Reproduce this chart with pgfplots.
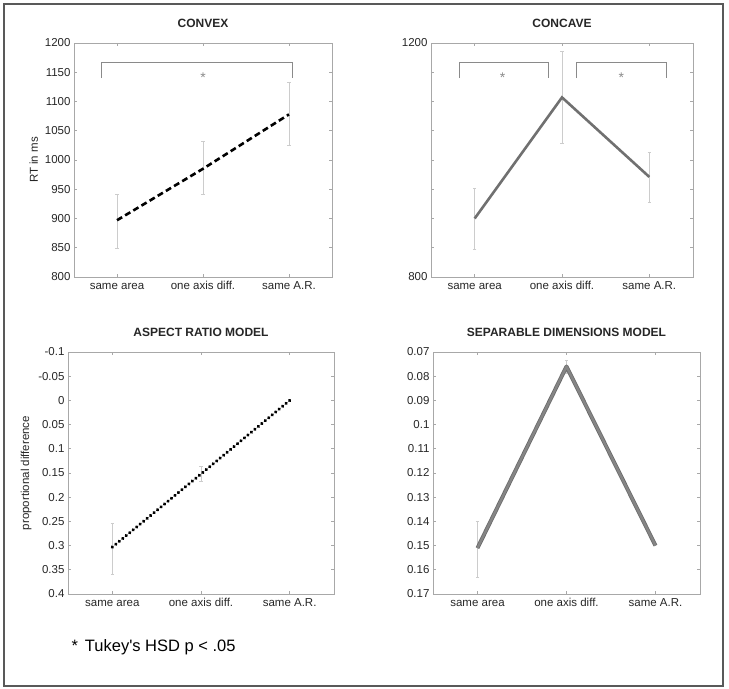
\documentclass[border=0pt]{standalone}
\usepackage{fontspec}
\setmainfont{Liberation Sans}
\usepackage{pgfplots}
\pgfplotsset{compat=1.18}
\definecolor{axgray}{HTML}{A8A8A8}
\definecolor{errgray}{HTML}{CCCCCC}
\definecolor{brgray}{HTML}{8A8A8A}
\definecolor{linegray}{HTML}{707070}
\definecolor{txt}{HTML}{262626}
\newcommand{\fs}{\fontsize{11.5bp}{13bp}\selectfont}
\pgfplotsset{
  panel/.style={
    scale only axis,
    anchor=south west,
    xmin=0.5, xmax=3.5,
    xtick={1,2,3},
    xticklabels={same area, one axis diff., same A.R.},
    tick align=inside,
    tick pos=both,
    major tick length=3bp,
    axis line style={axgray, line width=0.9bp},
    tick style={axgray, line width=0.8bp},
    tick label style={font=\fs, text=txt},
    xticklabel style={text height=8.5bp, text depth=2.5bp},
    /pgf/number format/assume math mode=true,
    /pgf/number format/1000 sep={},
    scaled y ticks=false,
    title style={font=\bfseries\fontsize{12bp}{14bp}\selectfont, text=txt, at={(0.5,1)}, anchor=base, yshift=10bp},
    ylabel style={font=\fs, text=txt},
    clip=false,
  },
  errs/.style={
    draw=none, mark=none, forget plot,
    error bars/.cd, y dir=both, y explicit,
    error bar style={draw=errgray, line width=0.9bp, solid},
    error mark options={rotate=90, mark size=1.6bp, draw=errgray, line width=0.8bp},
  },
}
\begin{document}
\begin{tikzpicture}
\useasboundingbox (0,0) rectangle (729bp,689bp);
\draw[black!65, line width=1.3bp] (4bp,3bp) rectangle (723bp,685bp);

% CONVEX
\begin{axis}[panel, at={(74bp,412bp)}, width=258bp, height=234bp,
  ymin=800, ymax=1200, ytick={800,850,...,1200},
  title={CONVEX}, ylabel={RT in ms}]
\addplot[errs] coordinates {(1,897) += (0,45) -= (0,48) (2,985) += (0,46) -= (0,44) (3,1078) += (0,55) -= (0,53)};
\addplot[black, line width=2.6bp, dash pattern=on 6bp off 3.5bp] coordinates {(1,897) (2,985) (3,1078)};
\addplot[brgray, line width=1bp, mark=none] coordinates {(0.82,1140) (0.82,1166) (3.04,1166) (3.04,1140)};
\node[text=brgray, font=\fontsize{14bp}{15bp}\selectfont] at (axis cs:2,1141) {*};
\end{axis}

% CONCAVE
\begin{axis}[panel, at={(431bp,412bp)}, width=262bp, height=234bp,
  ymin=800, ymax=1200, ytick={800,850,...,1200},
  yticklabels={800,,,,,,,,1200},
  title={CONCAVE}]
\addplot[errs] coordinates {(1,900) += (0,52) -= (0,53) (2,1107) += (0,78) -= (0,78) (3,971) += (0,42) -= (0,43)};
\addplot[linegray, line width=2.6bp] coordinates {(1,900) (2,1107) (3,971)};
\addplot[brgray, line width=1bp, mark=none] coordinates {(0.825,1140) (0.825,1166) (1.84,1166) (1.84,1140)};
\addplot[brgray, line width=1bp, mark=none] coordinates {(2.17,1140) (2.17,1166) (3.2,1166) (3.2,1140)};
\node[text=brgray, font=\fontsize{14bp}{15bp}\selectfont] at (axis cs:1.32,1141) {*};
\node[text=brgray, font=\fontsize{14bp}{15bp}\selectfont] at (axis cs:2.68,1141) {*};
\end{axis}

% ASPECT RATIO MODEL
\begin{axis}[panel, at={(68bp,95bp)}, width=266bp, height=242bp,
  y dir=reverse, ymin=-0.1, ymax=0.4,
  ytick={-0.1,-0.05,0,0.05,0.1,0.15,0.2,0.25,0.3,0.35,0.4},
  yticklabels={-0.1,-0.05,0,0.05,0.1,0.15,0.2,0.25,0.3,0.35,0.4},
  title={ASPECT RATIO MODEL}, ylabel={proportional difference}]
\addplot[errs] coordinates {(1,0.303) += (0,0.057) -= (0,0.048) (2,0.152) += (0,0.016) -= (0,0.015)};
\addplot[black, line width=3.6bp, line cap=round, dash pattern=on 0.01bp off 4.5bp] coordinates {(1,0.303) (2,0.152) (3,0.0)};
\end{axis}

% SEPARABLE DIMENSIONS MODEL
\begin{axis}[panel, at={(433bp,95bp)}, width=267bp, height=242bp,
  y dir=reverse, ymin=0.07, ymax=0.17,
  ytick={0.07,0.08,0.09,0.1,0.11,0.12,0.13,0.14,0.15,0.16,0.17},
  yticklabels={0.07,0.08,0.09,0.1,0.11,0.12,0.13,0.14,0.15,0.16,0.17},
  title={SEPARABLE DIMENSIONS MODEL}]
\addplot[errs] coordinates {(1,0.151) += (0,0.012) -= (0,0.011) (2,0.076) += (0,0.003) -= (0,0.0025)};
\addplot[black!58, line width=4bp, line join=round] coordinates {(1,0.151) (2,0.076) (3,0.150)};
\addplot[black!48, line width=2.4bp, line join=round] coordinates {(1,0.151) (2,0.076) (3,0.150)};
\end{axis}

\node[anchor=base west, font=\fontsize{16.5bp}{18bp}\selectfont, text=black] at (68bp,38bp) {*\hspace{7bp}Tukey\textquotesingle s HSD p < .05};
\end{tikzpicture}
\end{document}
